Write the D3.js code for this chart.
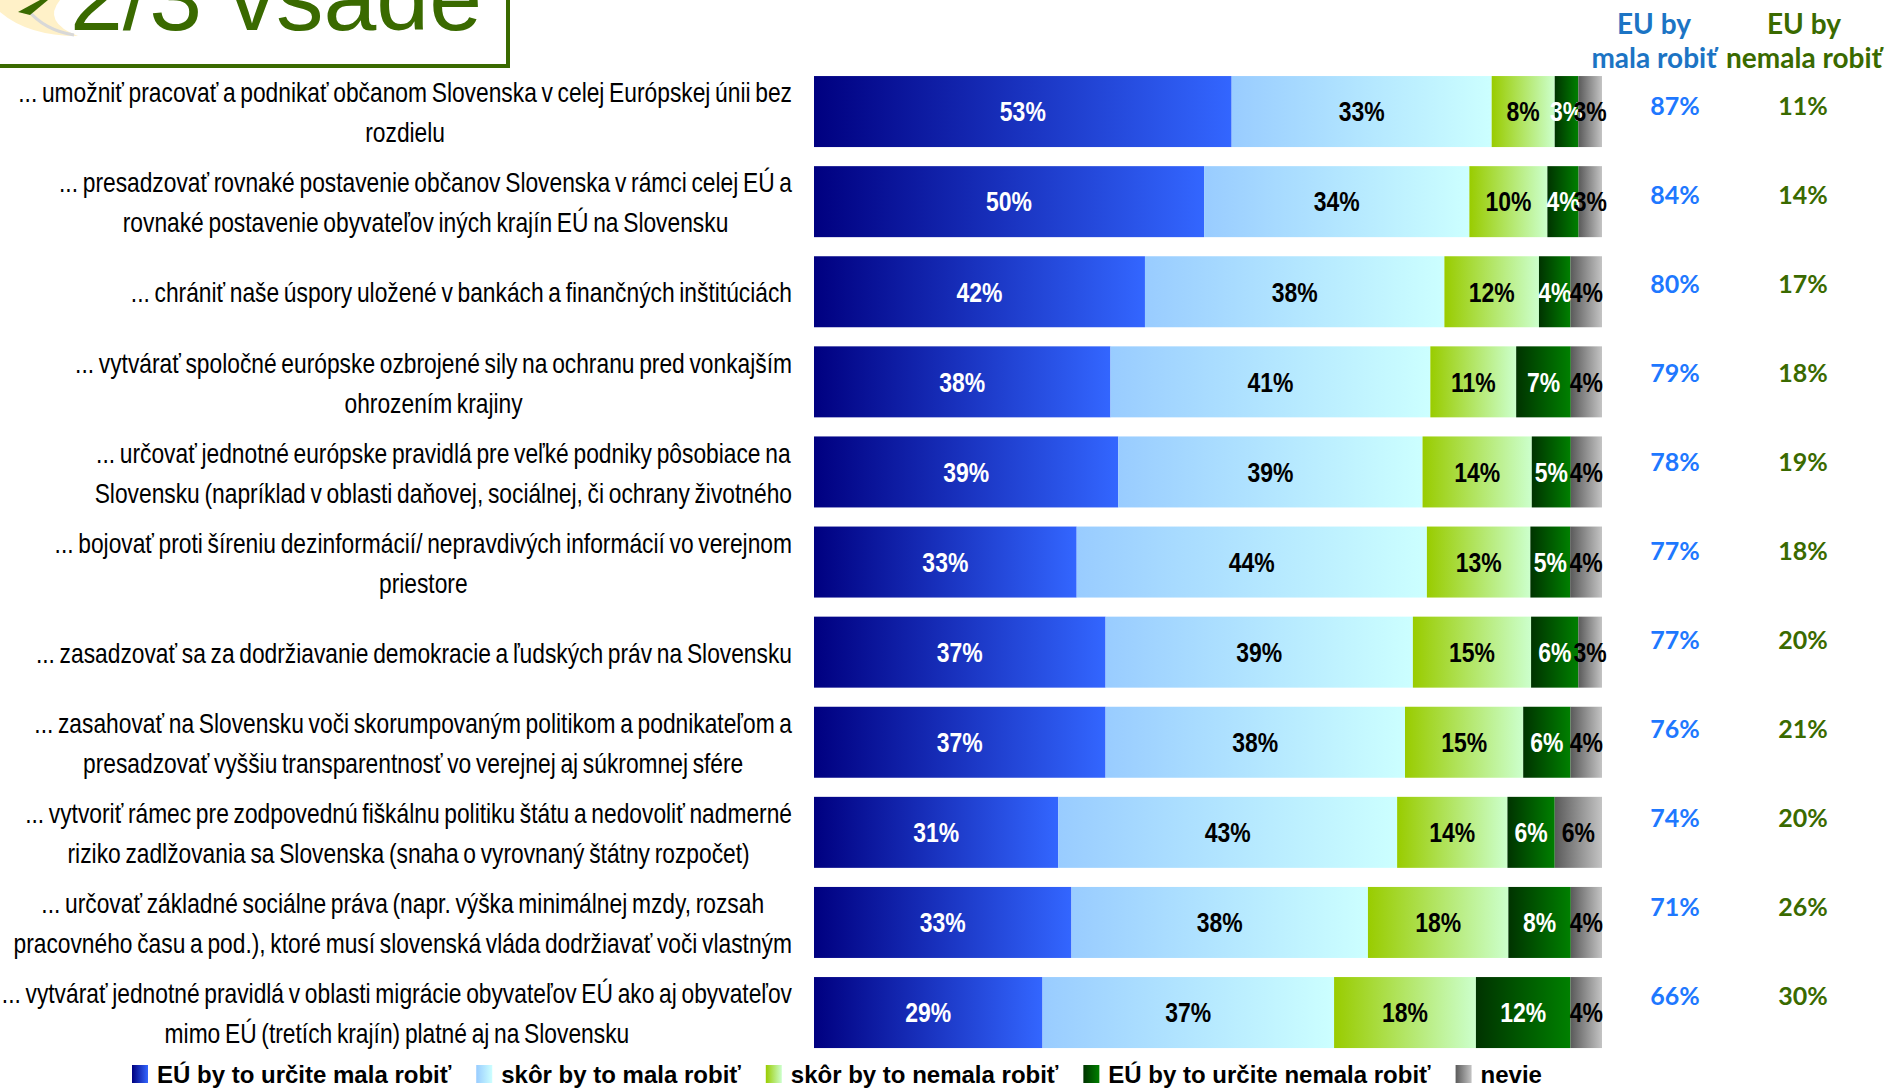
<!DOCTYPE html>
<html><head><meta charset="utf-8">
<script src="https://cdn.jsdelivr.net/npm/d3@7"></script>
<style>html,body{margin:0;padding:0;background:#fff;overflow:hidden} svg{display:block}</style>
</head><body>
<svg id="chart" width="1886" height="1088"></svg>
<script>
// ---------------- DATA ----------------
const categories = [
  ["... umožniť pracovať a podnikať občanom Slovenska v celej Európskej únii bez", "rozdielu"],
  ["... presadzovať rovnaké postavenie občanov Slovenska v rámci celej EÚ a", "rovnaké postavenie obyvateľov iných krajín EÚ na Slovensku"],
  ["... chrániť naše úspory uložené v bankách a finančných inštitúciách"],
  ["... vytvárať spoločné európske ozbrojené sily na ochranu pred vonkajším", "ohrozením krajiny"],
  ["... určovať jednotné európske pravidlá pre veľké podniky pôsobiace na", "Slovensku (napríklad v oblasti daňovej, sociálnej, či ochrany životného"],
  ["... bojovať proti šíreniu dezinformácií/ nepravdivých informácií vo verejnom", "priestore"],
  ["... zasadzovať sa za dodržiavanie demokracie a ľudských práv na Slovensku"],
  ["... zasahovať na Slovensku voči skorumpovaným politikom a podnikateľom a", "presadzovať vyššiu transparentnosť vo verejnej aj súkromnej sfére"],
  ["... vytvoriť rámec pre zodpovednú fiškálnu politiku štátu a nedovoliť nadmerné", "riziko zadlžovania sa Slovenska (snaha o vyrovnaný štátny rozpočet)"],
  ["... určovať základné sociálne práva (napr. výška minimálnej mzdy, rozsah", "pracovného času a pod.), ktoré musí slovenská vláda dodržiavať voči vlastným"],
  ["... vytvárať jednotné pravidlá v oblasti migrácie obyvateľov EÚ ako aj obyvateľov", "mimo EÚ (tretích krajín) platné aj na Slovensku"]
];
const seriesNames = ["EÚ by to určite mala robiť", "skôr by to mala robiť", "skôr by to nemala robiť", "EÚ by to určite nemala robiť", "nevie"];
const urciteMala   = [53, 50, 42, 38, 39, 33, 37, 37, 31, 33, 29];
const skorMala     = [33, 34, 38, 41, 39, 44, 39, 38, 43, 38, 37];
const skorNemala   = [8, 10, 12, 11, 14, 13, 15, 15, 14, 18, 18];
const urciteNemala = [3, 4, 4, 7, 5, 5, 6, 6, 6, 8, 12];
const nevie        = [3, 3, 4, 4, 4, 4, 3, 4, 6, 4, 4];
const malaTotals   = [87, 84, 80, 79, 78, 77, 77, 76, 74, 71, 66];
const nemalaTotals = [11, 14, 17, 18, 19, 18, 20, 21, 20, 26, 30];
const headerMala   = ["EU by", "mala robiť"];
const headerNemala = ["EU by", "nemala robiť"];
const titleText    = "2/3 všade";

// ---------------- STYLE ----------------
const gradStops = [
  ["#000080", "#3366FF"],
  ["#99CCFF", "#CCFFFF"],
  ["#99CC00", "#CCFFCC"],
  ["#003300", "#008000"],
  ["#5A5A5A", "#C4C4C4"]
];
const labelColors = ["#ffffff", "#000000", "#000000", "#ffffff", "#000000"];
const green = "#3A6A00";
const blueHead = "#1C74C4";
const blueVal = "#1E78FF";

const svg = d3.select("#chart");
svg.append("rect").attr("width", 1886).attr("height", 1088).attr("fill", "#fff");

// detect narrow font
const probe = svg.append("text").attr("font-size", 100).attr("font-family", "'Liberation Sans Narrow'").text("abcdefghij klmnop");
const wN = probe.node().getComputedTextLength();
probe.attr("font-family", "'Liberation Sans'");
const wR = probe.node().getComputedTextLength();
probe.remove();
const hasNarrow = wN / wR < 0.9;
const narrowFam = hasNarrow ? "'Liberation Sans Narrow', 'Liberation Sans', Arial, sans-serif" : "'Liberation Sans', Arial, sans-serif";
const narrowSX = hasNarrow ? 1 : 0.82;

function ntext(parent, x, y, str, opts) {
  const g = parent.append("g").attr("transform", `translate(${x},${y}) scale(${narrowSX},1)`);
  const t = g.append("text")
    .attr("font-family", narrowFam)
    .attr("font-size", opts.size)
    .attr("font-weight", opts.weight || "normal")
    .attr("fill", opts.fill || "#000")
    .attr("text-anchor", opts.anchor || "middle")
    .attr("dy", "0.35em")
    .style("word-spacing", (opts.ws || 0) + "px")
    .text(str);
  return t;
}

// ---------------- DEFS (gradients) ----------------
const defs = svg.append("defs");
gradStops.forEach((s, i) => {
  const g = defs.append("linearGradient").attr("id", "grad" + i).attr("x1", "0%").attr("x2", "100%").attr("y1", "0%").attr("y2", "0%");
  g.append("stop").attr("offset", "0%").attr("stop-color", s[0]);
  g.append("stop").attr("offset", "100%").attr("stop-color", s[1]);
});

// ---------------- TITLE BOX ----------------
const deco = svg.append("g");
deco.append("path").attr("d", "M0,0 L60,0 Q42,22 78,36 Q28,36 0,12 Z").attr("fill", "#FFF1C8");
deco.append("path").attr("d", "M28,10 Q44,30 74,35").attr("fill", "none").attr("stroke", "#D8D8D8").attr("stroke-width", 3);
deco.append("path").attr("d", "M40,0 L18,12 L30,15 L48,0 Z").attr("fill", green);
deco.append("text").attr("x", 70).attr("y", 30).attr("font-family", "'Liberation Sans', Arial, sans-serif")
  .attr("font-size", 95).attr("fill", green).text(titleText);
deco.append("path").attr("d", "M-5,66 L508,66 L508,-5").attr("fill", "none").attr("stroke", green).attr("stroke-width", 4);

// ---------------- SCALES ----------------
const n = categories.length;
const y = d3.scaleBand().domain(d3.range(n)).range([66.5, 1057.6]).paddingInner(0.212).paddingOuter(0.106);
const x = d3.scaleLinear().domain([0, 1]).range([814, 1602]);

const keys = ["s0", "s1", "s2", "s3", "s4"];
const seriesArrays = [urciteMala, skorMala, skorNemala, urciteNemala, nevie];
const rows = d3.range(n).map(i => {
  const o = { idx: i };
  keys.forEach((k, j) => o[k] = seriesArrays[j][i]);
  return o;
});
const stacked = d3.stack().keys(keys).offset(d3.stackOffsetExpand)(rows);

// ---------------- BARS ----------------
const barG = svg.append("g");
stacked.forEach((layer, j) => {
  barG.append("g").selectAll("rect").data(layer).join("rect")
    .attr("x", d => x(d[0]))
    .attr("y", d => y(d.data.idx))
    .attr("width", d => x(d[1]) - x(d[0]))
    .attr("height", y.bandwidth())
    .attr("fill", `url(#grad${j})`);
});
const labG = svg.append("g");
stacked.forEach((layer, j) => {
  layer.forEach(d => {
    ntext(labG, x((d[0] + d[1]) / 2), y(d.data.idx) + y.bandwidth() / 2, d.data[keys[j]] + "%",
      { size: 28, weight: "bold", fill: labelColors[j] });
  });
});

// ---------------- CATEGORY LABELS ----------------
const catG = svg.append("g");
const catRight = 792, lineGap = 40;
categories.forEach((lines, i) => {
  const cy = y(i) + y.bandwidth() / 2 + 1;
  const texts = lines.map((ln, k) => ntext(catG, 0, cy + (k - (lines.length - 1) / 2) * lineGap, ln, { size: 27.8, fill: "#000", ws: -2 }));
  const W = d3.max(texts, t => t.node().getComputedTextLength()) * narrowSX;
  const cx = catRight - W / 2;
  texts.forEach((t, k) => {
    d3.select(t.node().parentNode).attr("transform", `translate(${cx},${cy + (k - (lines.length - 1) / 2) * lineGap}) scale(${narrowSX},1)`);
  });
});

// ---------------- RIGHT COLUMNS ----------------
const yR = d3.scalePoint().domain(d3.range(n)).range([106, 996]);
const colX = [1675, 1803];
const rightG = svg.append("g").attr("font-family", "Lato, 'Open Sans', sans-serif").attr("font-weight", "bold").attr("text-anchor", "middle");
rightG.selectAll("text.mala").data(malaTotals).join("text").attr("class", "mala").attr("font-size", 25)
  .attr("x", colX[0]).attr("y", (d, i) => yR(i)).attr("dy", "0.35em").attr("fill", blueVal).text(d => d + "%");
rightG.selectAll("text.nemala").data(nemalaTotals).join("text").attr("class", "nemala").attr("font-size", 25)
  .attr("x", colX[1]).attr("y", (d, i) => yR(i)).attr("dy", "0.35em").attr("fill", green).text(d => d + "%");
const headY = [24, 58];
headerMala.forEach((h, k) => rightG.append("text").attr("font-size", 28).attr("x", 1654).attr("y", headY[k]).attr("dy", "0.35em").attr("fill", blueHead).text(h));
headerNemala.forEach((h, k) => rightG.append("text").attr("font-size", 28).attr("x", 1804).attr("y", headY[k]).attr("dy", "0.35em").attr("fill", green).text(h));

// ---------------- LEGEND ----------------
const legG = svg.append("g");
let lx = 132;
const legTop = 1065, mW = 16, mH = 18;
seriesNames.forEach((name, j) => {
  legG.append("rect").attr("x", lx).attr("y", legTop).attr("width", mW).attr("height", mH).attr("fill", `url(#grad${j})`);
  const t = legG.append("text").attr("x", lx + mW + 9).attr("y", legTop + mH)
    .attr("font-family", "'Liberation Sans', Arial, sans-serif").attr("font-weight", "bold").attr("font-size", 24)
    .attr("fill", "#000").text(name);
  lx = lx + mW + 9 + t.node().getComputedTextLength() + 25;
});
</script>
</body></html>
